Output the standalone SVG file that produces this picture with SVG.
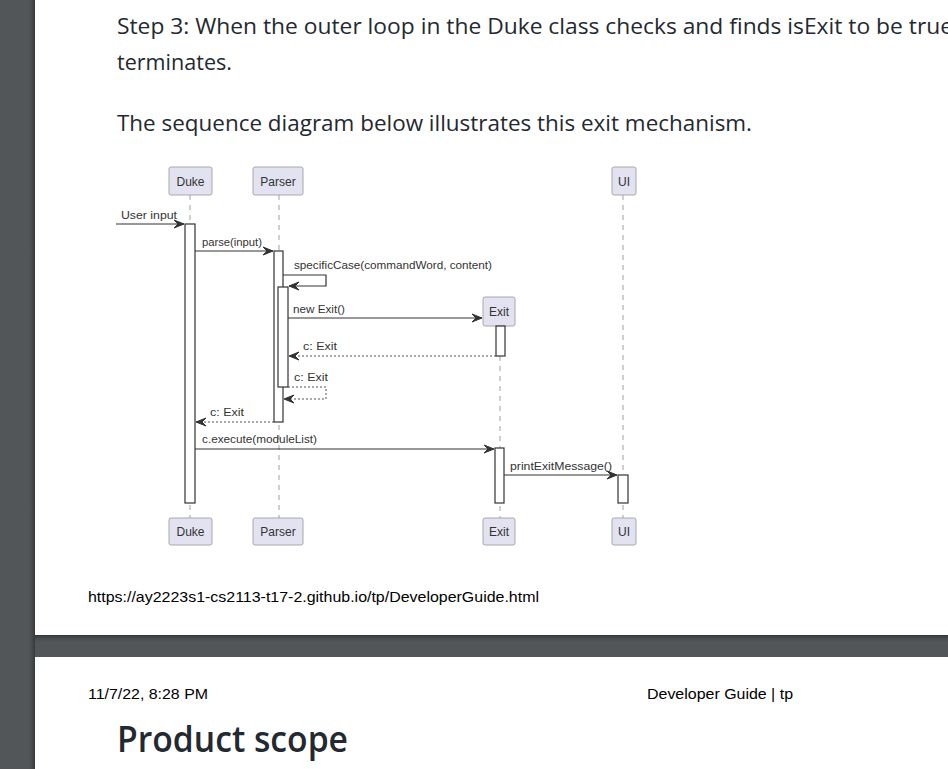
<svg xmlns="http://www.w3.org/2000/svg" width="948" height="769" viewBox="0 0 948 769">
<defs>
<style>
.page{fill:#ffffff}
.prose{font-family:"Open Sans","Noto Sans","Liberation Sans",sans-serif;fill:#24292f;font-size:22px}
.foot{font-family:"Liberation Sans",Arial,sans-serif;fill:#000;font-size:14px}
.head{font-family:"Open Sans","Noto Sans","Liberation Sans",sans-serif;fill:#24292f;font-size:36px;font-weight:600}
.pbox{fill:#E2E2F0;stroke:#A8A8B0;stroke-width:1}
.pname{font-family:"Liberation Sans",Arial,sans-serif;font-size:12px;fill:#333;text-anchor:middle}
.life{stroke:#A0A0A0;stroke-width:1;stroke-dasharray:5,5;fill:none}
.act{fill:#fff;stroke:#333;stroke-width:1.2}
.msg{stroke:#333;stroke-width:1.2;fill:none}
.ret{stroke:#555;stroke-width:1;stroke-dasharray:2,2;fill:none}
.lbl{font-family:"Liberation Sans",Arial,sans-serif;font-size:11px;fill:#333}
.ah{fill:#333;stroke:#333;stroke-width:1}
</style>
<linearGradient id="shL" x1="0" y1="0" x2="1" y2="0">
<stop offset="0" stop-color="#525659" stop-opacity="0"/>
<stop offset="1" stop-color="#2e3133" stop-opacity="0.8"/>
</linearGradient>
<linearGradient id="shB" x1="0" y1="0" x2="0" y2="1">
<stop offset="0" stop-color="#2e3133" stop-opacity="0.9"/>
<stop offset="1" stop-color="#525659" stop-opacity="0"/>
</linearGradient>
</defs>
<rect x="0" y="0" width="948" height="769" fill="#525659"/>
<rect x="27" y="0" width="8" height="769" fill="url(#shL)"/>
<rect x="35" y="635" width="913" height="8" fill="url(#shB)"/>
<rect class="page" x="35" y="0" width="913" height="635"/>
<rect class="page" x="35" y="657" width="913" height="112"/>

<text class="prose" x="117" y="34" textLength="836" lengthAdjust="spacingAndGlyphs">Step 3: When the outer loop in the Duke class checks and finds isExit to be true</text>
<text class="prose" x="117" y="70" textLength="115" lengthAdjust="spacingAndGlyphs">terminates.</text>
<text class="prose" x="117" y="131" textLength="635" lengthAdjust="spacingAndGlyphs">The sequence diagram below illustrates this exit mechanism.</text>

<text class="foot" x="88" y="602" textLength="451" lengthAdjust="spacingAndGlyphs">https://ay2223s1-cs2113-t17-2.github.io/tp/DeveloperGuide.html</text>
<text class="foot" x="88" y="699" textLength="120" lengthAdjust="spacingAndGlyphs">11/7/22, 8:28 PM</text>
<text class="foot" x="647" y="699" textLength="146" lengthAdjust="spacingAndGlyphs">Developer Guide | tp</text>
<text class="head" x="117" y="752" textLength="231" lengthAdjust="spacingAndGlyphs">Product scope</text>

<g id="lifelines">
<line class="life" x1="190" y1="195" x2="190" y2="518"/>
<line class="life" x1="279" y1="195" x2="279" y2="518"/>
<line class="life" x1="500" y1="326" x2="500" y2="518"/>
<line class="life" x1="623" y1="195" x2="623" y2="518"/>
</g>

<g id="Duke">
<rect class="pbox" x="169" y="167" width="43" height="28" rx="2"/>
<text class="pname" x="190.5" y="185.5">Duke</text>
<rect class="pbox" x="169" y="518" width="43" height="27" rx="2"/>
<text class="pname" x="190.5" y="536">Duke</text>
<rect class="act" x="185" y="224" width="10" height="279"/>
</g>
<g id="Parser">
<rect class="pbox" x="253" y="167" width="50" height="28" rx="2"/>
<text class="pname" x="278" y="185.5">Parser</text>
<rect class="pbox" x="253" y="518" width="50" height="27" rx="2"/>
<text class="pname" x="278" y="536">Parser</text>
<rect class="act" x="274" y="251" width="9" height="171"/>
<rect class="act" x="278" y="287" width="10" height="100"/>
</g>
<g id="Exit">
<rect class="pbox" x="483" y="297" width="32" height="29" rx="2"/>
<text class="pname" x="499" y="315.5">Exit</text>
<rect class="pbox" x="483" y="518" width="32" height="27" rx="2"/>
<text class="pname" x="499" y="536">Exit</text>
<rect class="act" x="496" y="326" width="9" height="30"/>
<rect class="act" x="495" y="448" width="9" height="55"/>
</g>
<g id="UI">
<rect class="pbox" x="612" y="167" width="24" height="28" rx="2"/>
<text class="pname" x="624" y="185.5">UI</text>
<rect class="pbox" x="612" y="518" width="24" height="27" rx="2"/>
<text class="pname" x="624" y="536">UI</text>
<rect class="act" x="618" y="475" width="10" height="28"/>
</g>

<g id="connectors">
<line class="msg" x1="116" y1="224" x2="184" y2="224"/>
<polygon class="ah" points="184,224 174,220 178,224 174,228"/>
<text class="lbl" x="121" y="219" textLength="56" lengthAdjust="spacingAndGlyphs">User input</text>

<line class="msg" x1="195" y1="251" x2="273" y2="251"/>
<polygon class="ah" points="273,251 263,247 267,251 263,255"/>
<text class="lbl" x="202" y="246" textLength="60" lengthAdjust="spacingAndGlyphs">parse(input)</text>

<polyline class="msg" points="283,275 326,275 326,286 289,286"/>
<polygon class="ah" points="289,286 299,282 295,286 299,290"/>
<text class="lbl" x="294" y="269" textLength="198" lengthAdjust="spacingAndGlyphs">specificCase(commandWord, content)</text>

<line class="msg" x1="288" y1="318" x2="482" y2="318"/>
<polygon class="ah" points="482,318 472,314 476,318 472,322"/>
<text class="lbl" x="293" y="313" textLength="52" lengthAdjust="spacingAndGlyphs">new Exit()</text>

<line class="ret" x1="496" y1="356" x2="289" y2="356"/>
<polygon class="ah" points="289,356 299,352 295,356 299,360"/>
<text class="lbl" x="303" y="350" textLength="34" lengthAdjust="spacingAndGlyphs">c: Exit</text>

<polyline class="ret" points="288,387 326,387 326,399 284,399"/>
<polygon class="ah" points="284,399 294,395 290,399 294,403"/>
<text class="lbl" x="294" y="381" textLength="34" lengthAdjust="spacingAndGlyphs">c: Exit</text>

<line class="ret" x1="274" y1="422" x2="196" y2="422"/>
<polygon class="ah" points="196,422 206,418 202,422 206,426"/>
<text class="lbl" x="210" y="416" textLength="34" lengthAdjust="spacingAndGlyphs">c: Exit</text>

<line class="msg" x1="195" y1="449" x2="494" y2="449"/>
<polygon class="ah" points="494,449 484,445 488,449 484,453"/>
<text class="lbl" x="202" y="443" textLength="115" lengthAdjust="spacingAndGlyphs">c.execute(moduleList)</text>

<line class="msg" x1="504" y1="475" x2="617" y2="475"/>
<polygon class="ah" points="617,475 607,471 611,475 607,479"/>
<text class="lbl" x="510" y="470" textLength="102" lengthAdjust="spacingAndGlyphs">printExitMessage()</text>
</g>
</svg>
